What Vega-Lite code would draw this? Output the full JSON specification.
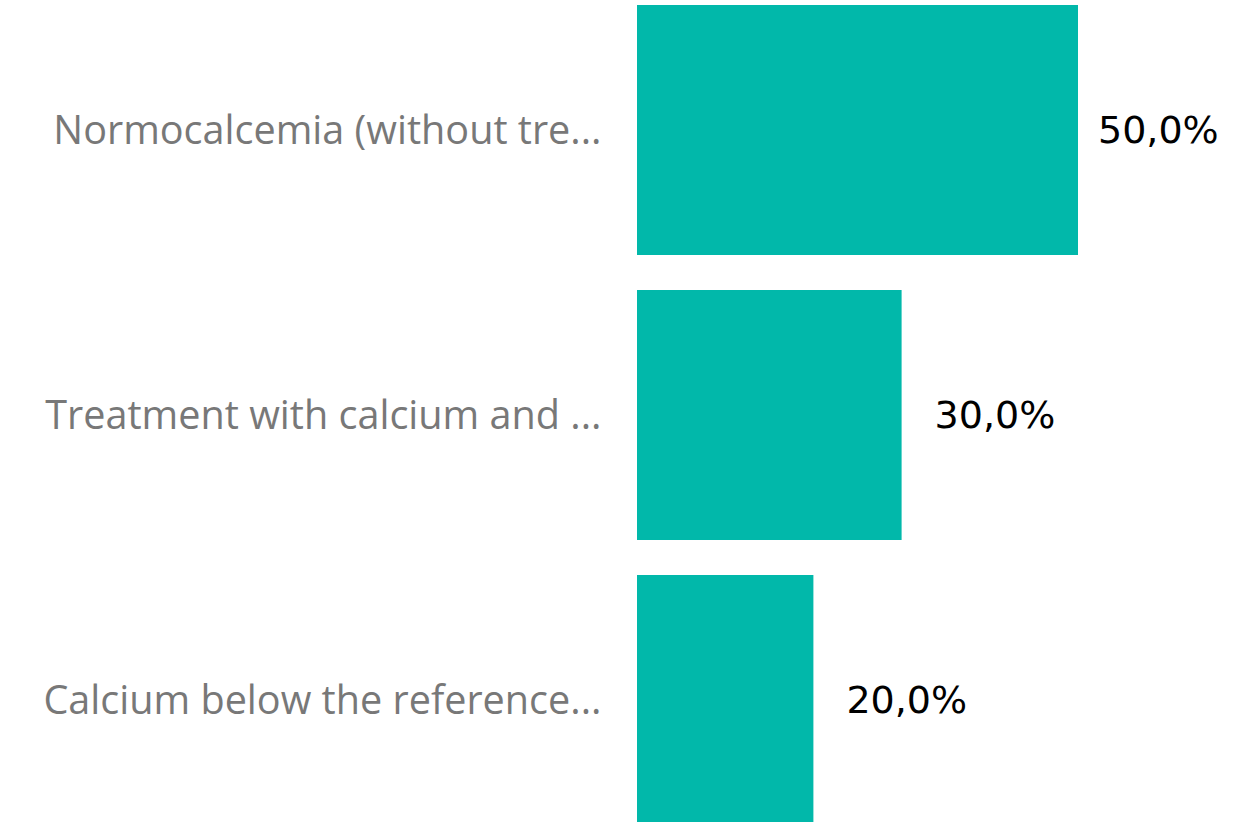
{
  "$schema": "https://vega.github.io/schema/vega-lite/v6.json",
  "autosize": {"type": "none"},
  "padding": {"left": 637, "right": 0, "top": 0, "bottom": 0},
  "width": 598,
  "height": 830,
  "background": "white",
  "config": {
    "view": {"stroke": null},
    "locale": {"number": {"decimal": ",", "thousands": ".", "grouping": [3], "currency": ["", " €"]}}
  },
  "data": {"values": [
    {"category": "Normocalcemia (without tre...", "share": 0.5},
    {"category": "Treatment with calcium and ...", "share": 0.3},
    {"category": "Calcium below the reference...", "share": 0.2}
  ]},
  "encoding": {
    "y": {"field": "category", "type": "nominal", "sort": null,
      "scale": {"paddingInner": 0.1228, "paddingOuter": 0.0175},
      "axis": {"title": null, "domain": false, "ticks": false, "grid": false,
        "labelFont": "Open Sans", "labelFontSize": 39.6, "labelColor": "#787878",
        "labelPadding": 36, "labelLimit": 700, "labelBaseline": "middle", "labelOffset": 2}},
    "x": {"field": "share", "type": "quantitative",
      "scale": {"domain": [0, 0.678], "nice": false, "zero": true},
      "axis": null}
  },
  "layer": [
    {"mark": {"type": "bar", "color": "#01B8AA"}},
    {"transform": [{"filter": "datum.share >= 0.5"}],
     "mark": {"type": "text", "align": "left", "baseline": "middle", "dx": 20, "dy": 2,
       "font": "DejaVu Sans", "fontSize": 38, "color": "#000000"},
     "encoding": {"text": {"field": "share", "type": "quantitative", "format": ".1%"}}},
    {"transform": [{"filter": "datum.share < 0.5"}],
     "mark": {"type": "text", "align": "left", "baseline": "middle", "dx": 33, "dy": 2,
       "font": "DejaVu Sans", "fontSize": 38, "color": "#000000"},
     "encoding": {"text": {"field": "share", "type": "quantitative", "format": ".1%"}}}
  ]
}
